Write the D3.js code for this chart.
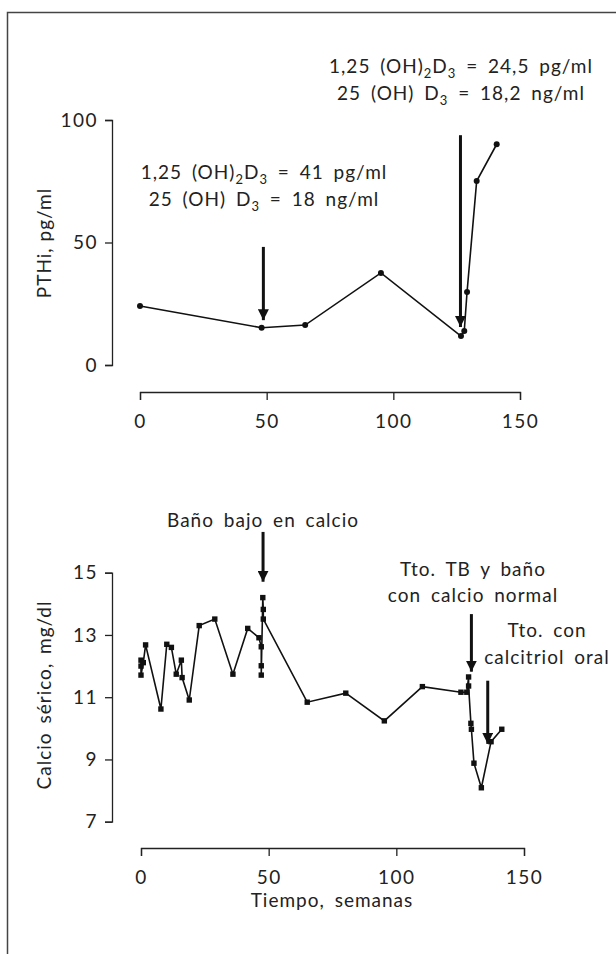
<!DOCTYPE html>
<html>
<head>
<meta charset="utf-8">
<script src="https://cdn.jsdelivr.net/npm/d3@7"></script>
<style>
  body { margin: 0; background: #fff; }
  svg text { font-family: Lato, "Open Sans", sans-serif; fill: #222; letter-spacing: 1px; }
  .axis path, .axis line { stroke: #222; stroke-width: 1.3; }
  .axis text { font-size: 19px; font-family: Lato, sans-serif; fill: #222; letter-spacing: 1.5px; }
</style>
</head>
<body>
<div id="chart"></div>
<script>
// PTHi (top panel), semanas vs pg/ml
const pthWeeks = [0, 48, 65.2, 95.1, 126.7, 128, 129.1, 132.9, 140.8];
const pthValues = [24.1, 15.2, 16.3, 37.6, 11.8, 13.9, 29.8, 75.1, 90.1];

// calcio serico (bottom panel), semanas vs mg/dl
const caWeeks = [0, 0, 0, 0.9, 1.8, 7.8, 10.1, 11.9, 13.8, 15.8, 16.1, 18.9, 22.8, 28.9, 36, 41.8,
  46.2, 47.1, 47.1, 47.1, 47.7, 47.9, 47.9, 65.1, 80.2, 95.3, 110.2, 125.3, 127.6, 128.3, 128.3,
  129.2, 129.4, 130.4, 133.3, 137.1, 141.3];
const caValues = [12.19, 12.0, 11.71, 12.11, 12.68, 10.62, 12.7, 12.6, 11.74, 12.19, 11.63, 10.91, 13.3, 13.51, 11.74, 13.21,
  12.91, 12.62, 12.01, 11.71, 14.2, 13.82, 13.51, 10.84, 11.13, 10.24, 11.34, 11.16, 11.16, 11.65, 11.36,
  10.16, 9.97, 8.88, 8.09, 9.57, 9.97];

const xTicks = [0, 50, 100, 150];
const pthTicks = [0, 50, 100];
const caTicks = [7, 9, 11, 13, 15];

// arrows: week, start value, tip value
const pthArrowWeeks = [48.7, 126.5];
const pthArrowFrom = [48.2, 93.8];
const pthArrowTo = [18.3, 15.5];
const caArrowWeeks = [47.8, 129.4, 135.8];
const caArrowFrom = [16.31, 13.67, 11.53];
const caArrowTo = [14.71, 11.82, 9.5];

const W = 616, H = 954;
const svg = d3.select("#chart").append("svg")
  .attr("width", W).attr("height", H);

// frame (only left and top edges are visible)
svg.append("rect")
  .attr("x", 7.5).attr("y", 12.5)
  .attr("width", 700).attr("height", 1000)
  .attr("fill", "none").attr("stroke", "#444").attr("stroke-width", 1.5);

svg.append("defs").append("marker")
  .attr("id", "head")
  .attr("viewBox", "0 0 10 10")
  .attr("refX", 10).attr("refY", 5)
  .attr("markerUnits", "userSpaceOnUse")
  .attr("markerWidth", 11).attr("markerHeight", 11)
  .attr("orient", "auto")
  .append("path")
  .attr("d", "M0,0L10,5L0,10Z")
  .attr("fill", "#111");

// ---- TOP PANEL ----
let xTop = d3.scaleLinear().domain([0, 150]).range([140, 520]);
let yTop = d3.scaleLinear().domain([0, 100]).range([365, 120]);

svg.append("g").attr("class", "axis")
  .attr("transform", "translate(0,392)")
  .call(d3.axisBottom(xTop).tickValues(xTicks).tickSize(8).tickPadding(15));
svg.append("g").attr("class", "axis")
  .attr("transform", "translate(112,0)")
  .call(d3.axisLeft(yTop).tickValues(pthTicks).tickSize(7).tickPadding(7));

let pthData = pthWeeks.map((w, i) => ({ w: w, v: pthValues[i] }));
svg.append("path")
  .datum(pthData)
  .attr("fill", "none").attr("stroke", "#111").attr("stroke-width", 1.6)
  .attr("d", d3.line().x(d => xTop(d.w)).y(d => yTop(d.v)));
svg.selectAll(".dot")
  .data(pthData).enter().append("circle")
  .attr("class", "dot")
  .attr("cx", d => xTop(d.w)).attr("cy", d => yTop(d.v))
  .attr("r", 3).attr("fill", "#111");

pthArrowWeeks.forEach((w, i) => {
  svg.append("line")
    .attr("x1", xTop(w)).attr("x2", xTop(w))
    .attr("y1", yTop(pthArrowFrom[i])).attr("y2", yTop(pthArrowTo[i]))
    .attr("stroke", "#111").attr("stroke-width", 3)
    .attr("marker-end", "url(#head)");
});

// ---- BOTTOM PANEL ----
let xBot = d3.scaleLinear().domain([0, 150]).range([141, 524]);
let yBot = d3.scaleLinear().domain([7, 15]).range([821.7, 572.7]);

svg.append("g").attr("class", "axis")
  .attr("transform", "translate(0,848)")
  .call(d3.axisBottom(xBot).tickValues(xTicks).tickSize(8).tickPadding(15));
svg.append("g").attr("class", "axis")
  .attr("transform", "translate(112,0)")
  .call(d3.axisLeft(yBot).tickValues(caTicks).tickSize(7).tickPadding(7));

let caData = caWeeks.map((w, i) => ({ w: w, v: caValues[i] }));
svg.append("path")
  .datum(caData)
  .attr("fill", "none").attr("stroke", "#111").attr("stroke-width", 1.6)
  .attr("d", d3.line().x(d => xBot(d.w)).y(d => yBot(d.v)));
svg.selectAll(".sq")
  .data(caData).enter().append("rect")
  .attr("class", "sq")
  .attr("x", d => xBot(d.w) - 2.7).attr("y", d => yBot(d.v) - 2.7)
  .attr("width", 5.4).attr("height", 5.4).attr("fill", "#111");

caArrowWeeks.forEach((w, i) => {
  svg.append("line")
    .attr("x1", xBot(w)).attr("x2", xBot(w))
    .attr("y1", yBot(caArrowFrom[i])).attr("y2", yBot(caArrowTo[i]))
    .attr("stroke", "#111").attr("stroke-width", 3)
    .attr("marker-end", "url(#head)");
});

// ---- TEXTS ----
function richText(x, y, parts) {
  let t = svg.append("text")
    .attr("x", x).attr("y", y)
    .attr("text-anchor", "middle")
    .style("font-size", "19px")
    .style("word-spacing", "4px");
  let down = false;
  parts.forEach(p => {
    let sub = Array.isArray(p);
    let s = t.append("tspan").text(sub ? p[0] : p);
    if (sub && !down) { s.attr("dy", 5).style("font-size", "13px"); down = true; }
    else if (sub) { s.style("font-size", "13px"); }
    else if (down) { s.attr("dy", -5); down = false; }
  });
  return t;
}

richText(461, 73, ["1,25 (OH)", ["2"], "D", ["3"], " = 24,5 pg/ml"]);
richText(461, 100, ["25 (OH) D", ["3"], " = 18,2 ng/ml"]);
richText(264, 179, ["1,25 (OH)", ["2"], "D", ["3"], " = 41 pg/ml"]);
richText(264, 206, ["25 (OH) D", ["3"], " = 18 ng/ml"]);

richText(263, 527, ["Baño bajo en calcio"]);
richText(473, 576, ["Tto. TB y baño"]);
richText(473, 602, ["con calcio normal"]);
richText(547, 637, ["Tto. con"]);
richText(547, 664, ["calcitriol oral"]);
richText(332, 907, ["Tiempo, semanas"]);

svg.append("text")
  .attr("transform", "translate(51,243) rotate(-90)")
  .attr("text-anchor", "middle")
  .style("font-size", "19px")
  .text("PTHi, pg/ml");
svg.append("text")
  .attr("transform", "translate(51,695) rotate(-90)")
  .attr("text-anchor", "middle")
  .style("font-size", "19px")
  .style("word-spacing", "3px")
  .text("Calcio sérico, mg/dl");
</script>
</body>
</html>
